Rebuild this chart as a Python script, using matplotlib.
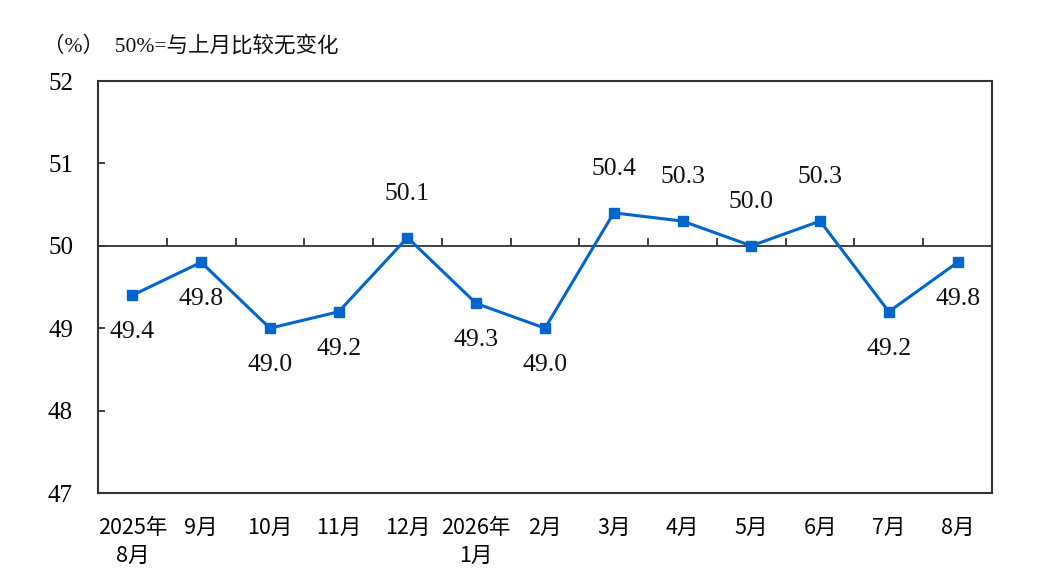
import numpy as np
import matplotlib
matplotlib.use('Agg')
import matplotlib.pyplot as plt

months = ['2025年\n8月', '9月', '10月', '11月', '12月', '2026年\n1月', '2月',
          '3月', '4月', '5月', '6月', '7月', '8月']
values = [49.4, 49.8, 49.0, 49.2, 50.1, 49.3, 49.0, 50.4, 50.3, 50.0, 50.3, 49.2, 49.8]
yticks = [47, 48, 49, 50, 51, 52]

serif = ['Liberation Serif', 'Noto Sans CJK SC']
cjk = ['Noto Sans CJK SC', 'DejaVu Sans']
plt.rcParams['font.family'] = serif
axis_col = '#333333'
line_col = '#0066CC'

fig = plt.figure(figsize=(10.54, 5.81), dpi=100)
ax = fig.add_axes([98 / 1054, 1 - 493 / 581, 894 / 1054, 412 / 581])

x = np.arange(len(values))
ax.plot(x, values, color=line_col, lw=2.2, marker='s', ms=7.5, zorder=3)

# reference line at 50 with category boundary ticks pointing up
ax.axhline(50, color=axis_col, lw=1.3, zorder=2)
bounds = np.arange(1, len(values)) - 0.5
ax.plot(bounds, np.full(len(bounds), 50.0), ls='none', marker=2, ms=6,
        mew=1.3, color=axis_col, zorder=2)

for xi, v in zip(x, values):
    dy = 31.5 if v >= 50 else -26.5
    ax.annotate(f'{v:.1f}', xy=(xi, v), xytext=(0, dy), textcoords='offset points',
                ha='center', va='center', fontsize=18.5, color='#111111')

ax.set_xlim(-0.5, len(values) - 0.5)
ax.set_ylim(47, 52)
ax.set_yticks(yticks)
ax.set_xticks(x)
ax.tick_params(axis='x', length=0, pad=17, labelsize=15.5, labelfontfamily=cjk)
ax.tick_params(axis='y', direction='in', length=5, width=1.3, color=axis_col, pad=18,
               labelsize=18, labelfontfamily=serif)
ax.set_yticklabels([str(t) for t in yticks])
ax.set_xticklabels(months, linespacing=1.35)

for s in ax.spines.values():
    s.set_color(axis_col)
    s.set_linewidth(1.5)

fig.text(43 / 1054, 1 - 46 / 581, '（%）  50%=与上月比较无变化',
         fontsize=15.5, va='center', ha='left', color='#111111')

fig.savefig('out.png', dpi=100)
